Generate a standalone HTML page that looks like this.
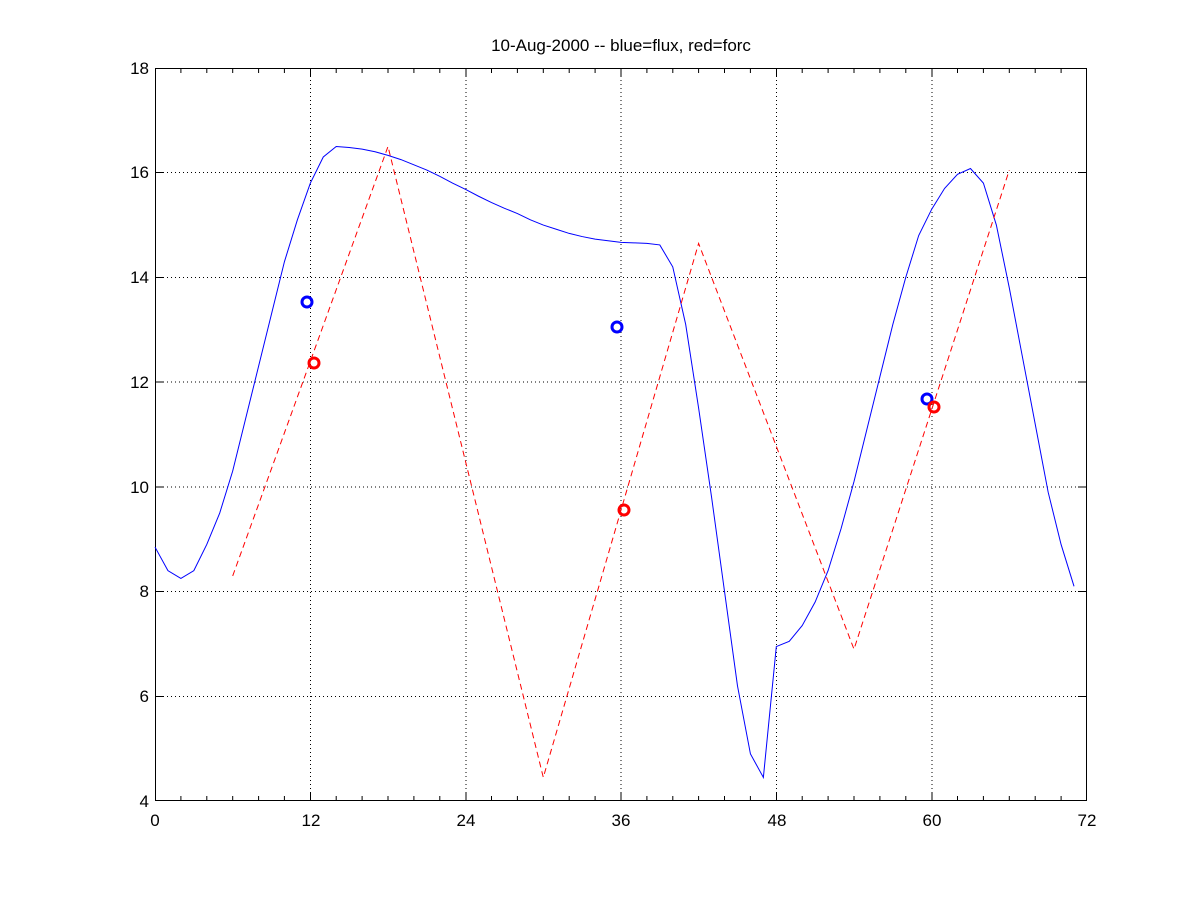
<!DOCTYPE html>
<html><head><meta charset="utf-8"><style>
html,body{margin:0;padding:0;background:#fff;}
svg{display:block;font-family:"Liberation Sans",sans-serif;}
</style></head><body>
<svg width="1200" height="900" viewBox="0 0 1200 900" xmlns="http://www.w3.org/2000/svg">
<rect width="1200" height="900" fill="#fff"/>
<g stroke="#000" stroke-width="1" stroke-dasharray="1,3" fill="none">
<line x1="310.5" y1="68" x2="310.5" y2="801"/>
<line x1="466" y1="68" x2="466" y2="801"/>
<line x1="621" y1="68" x2="621" y2="801"/>
<line x1="776.5" y1="68" x2="776.5" y2="801"/>
<line x1="932" y1="68" x2="932" y2="801"/>
<line x1="155" y1="172.5" x2="1087" y2="172.5"/>
<line x1="155" y1="277.5" x2="1087" y2="277.5"/>
<line x1="155" y1="382" x2="1087" y2="382"/>
<line x1="155" y1="487" x2="1087" y2="487"/>
<line x1="155" y1="591.5" x2="1087" y2="591.5"/>
<line x1="155" y1="696.5" x2="1087" y2="696.5"/>
</g>
<rect x="155.5" y="68.5" width="931" height="732" fill="none" stroke="#000" stroke-width="1"/>
<g stroke="#000" stroke-width="1">
<line x1="310.5" y1="801" x2="310.5" y2="792"/><line x1="310.5" y1="68" x2="310.5" y2="77"/>
<line x1="466" y1="801" x2="466" y2="792"/><line x1="466" y1="68" x2="466" y2="77"/>
<line x1="621" y1="801" x2="621" y2="792"/><line x1="621" y1="68" x2="621" y2="77"/>
<line x1="776.5" y1="801" x2="776.5" y2="792"/><line x1="776.5" y1="68" x2="776.5" y2="77"/>
<line x1="932" y1="801" x2="932" y2="792"/><line x1="932" y1="68" x2="932" y2="77"/>
<line x1="155" y1="172.5" x2="164" y2="172.5"/><line x1="1087" y1="172.5" x2="1078" y2="172.5"/>
<line x1="155" y1="277.5" x2="164" y2="277.5"/><line x1="1087" y1="277.5" x2="1078" y2="277.5"/>
<line x1="155" y1="382" x2="164" y2="382"/><line x1="1087" y1="382" x2="1078" y2="382"/>
<line x1="155" y1="487" x2="164" y2="487"/><line x1="1087" y1="487" x2="1078" y2="487"/>
<line x1="155" y1="591.5" x2="164" y2="591.5"/><line x1="1087" y1="591.5" x2="1078" y2="591.5"/>
<line x1="155" y1="696.5" x2="164" y2="696.5"/><line x1="1087" y1="696.5" x2="1078" y2="696.5"/>
</g>
<path stroke="#000" stroke-width="1" fill="none" d="M180.9,801v-5M206.8,801v-5M232.7,801v-5M258.6,801v-5M284.4,801v-5M336.2,801v-5M362.1,801v-5M388,801v-5M413.9,801v-5M439.8,801v-5M491.5,801v-5M517.4,801v-5M543.3,801v-5M569.2,801v-5M595.1,801v-5M646.9,801v-5M672.8,801v-5M698.6,801v-5M724.5,801v-5M750.4,801v-5M802.2,801v-5M828.1,801v-5M854,801v-5M879.9,801v-5M905.8,801v-5M957.5,801v-5M983.4,801v-5M1009.3,801v-5M1035.2,801v-5M1061.1,801v-5
M180.9,68v5M206.8,68v5M232.7,68v5M258.6,68v5M284.4,68v5M336.2,68v5M362.1,68v5M388,68v5M413.9,68v5M439.8,68v5M491.5,68v5M517.4,68v5M543.3,68v5M569.2,68v5M595.1,68v5M646.9,68v5M672.8,68v5M698.6,68v5M724.5,68v5M750.4,68v5M802.2,68v5M828.1,68v5M854,68v5M879.9,68v5M905.8,68v5M957.5,68v5M983.4,68v5M1009.3,68v5M1035.2,68v5M1061.1,68v5"/>
<g font-size="17" fill="#000" text-anchor="middle">
<text x="155" y="826">0</text><text x="311" y="826">12</text><text x="466" y="826">24</text>
<text x="621" y="826">36</text><text x="777" y="826">48</text><text x="932" y="826">60</text><text x="1087" y="826">72</text>
</g>
<g font-size="17" fill="#000" text-anchor="end">
<text x="149" y="74">18</text><text x="149" y="178">16</text><text x="149" y="283">14</text>
<text x="149" y="388">12</text><text x="149" y="493">10</text><text x="149" y="597">8</text>
<text x="149" y="702">6</text><text x="149" y="807">4</text>
</g>
<text x="621" y="51" font-size="17" text-anchor="middle">10-Aug-2000 -- blue=flux, red=forc</text>
<g transform="translate(155,801) scale(12.944,-52.36) translate(0,-4)">
<polyline vector-effect="non-scaling-stroke" fill="none" stroke="#0000ff" stroke-width="1" points="0,8.85 1,8.4 2,8.25 3,8.4 4,8.9 5,9.5 6,10.3 7,11.3 8,12.3 9,13.3 10,14.3 11,15.1 12,15.8 13,16.3 14,16.5 15,16.48 16,16.45 17,16.4 18,16.33 19,16.25 20,16.15 21,16.05 22,15.93 23,15.8 24,15.68 25,15.55 26,15.43 27,15.32 28,15.22 29,15.1 30,15.0 31,14.92 32,14.84 33,14.78 34,14.73 35,14.7 36,14.67 37,14.66 38,14.65 39,14.62 40,14.2 41,13.1 42,11.5 43,9.8 44,8.0 45,6.2 46,4.9 47,4.45 48,6.95 49,7.05 50,7.35 51,7.8 52,8.4 53,9.2 54,10.1 55,11.1 56,12.1 57,13.1 58,14.0 59,14.8 60,15.3 61,15.7 62,15.97 63,16.08 64,15.8 65,15.0 66,13.8 67,12.5 68,11.2 69,9.9 70,8.9 71,8.1"/>
</g>
<polyline fill="none" stroke="#ff0000" stroke-width="1" stroke-dasharray="6,4" points="232.7,575.9 388,146.5 543.3,777.4 698.6,243.4 854,649.2 1009.3,170.1"/>
<g fill="none" stroke-width="3">
<circle cx="307" cy="302" r="5" stroke="#0000ff"/>
<circle cx="617" cy="327" r="5" stroke="#0000ff"/>
<circle cx="927" cy="399" r="5" stroke="#0000ff"/>
<circle cx="314" cy="363" r="5" stroke="#ff0000"/>
<circle cx="624" cy="510" r="5" stroke="#ff0000"/>
<circle cx="934" cy="407" r="5" stroke="#ff0000"/>
</g>
</svg>
</body></html>
